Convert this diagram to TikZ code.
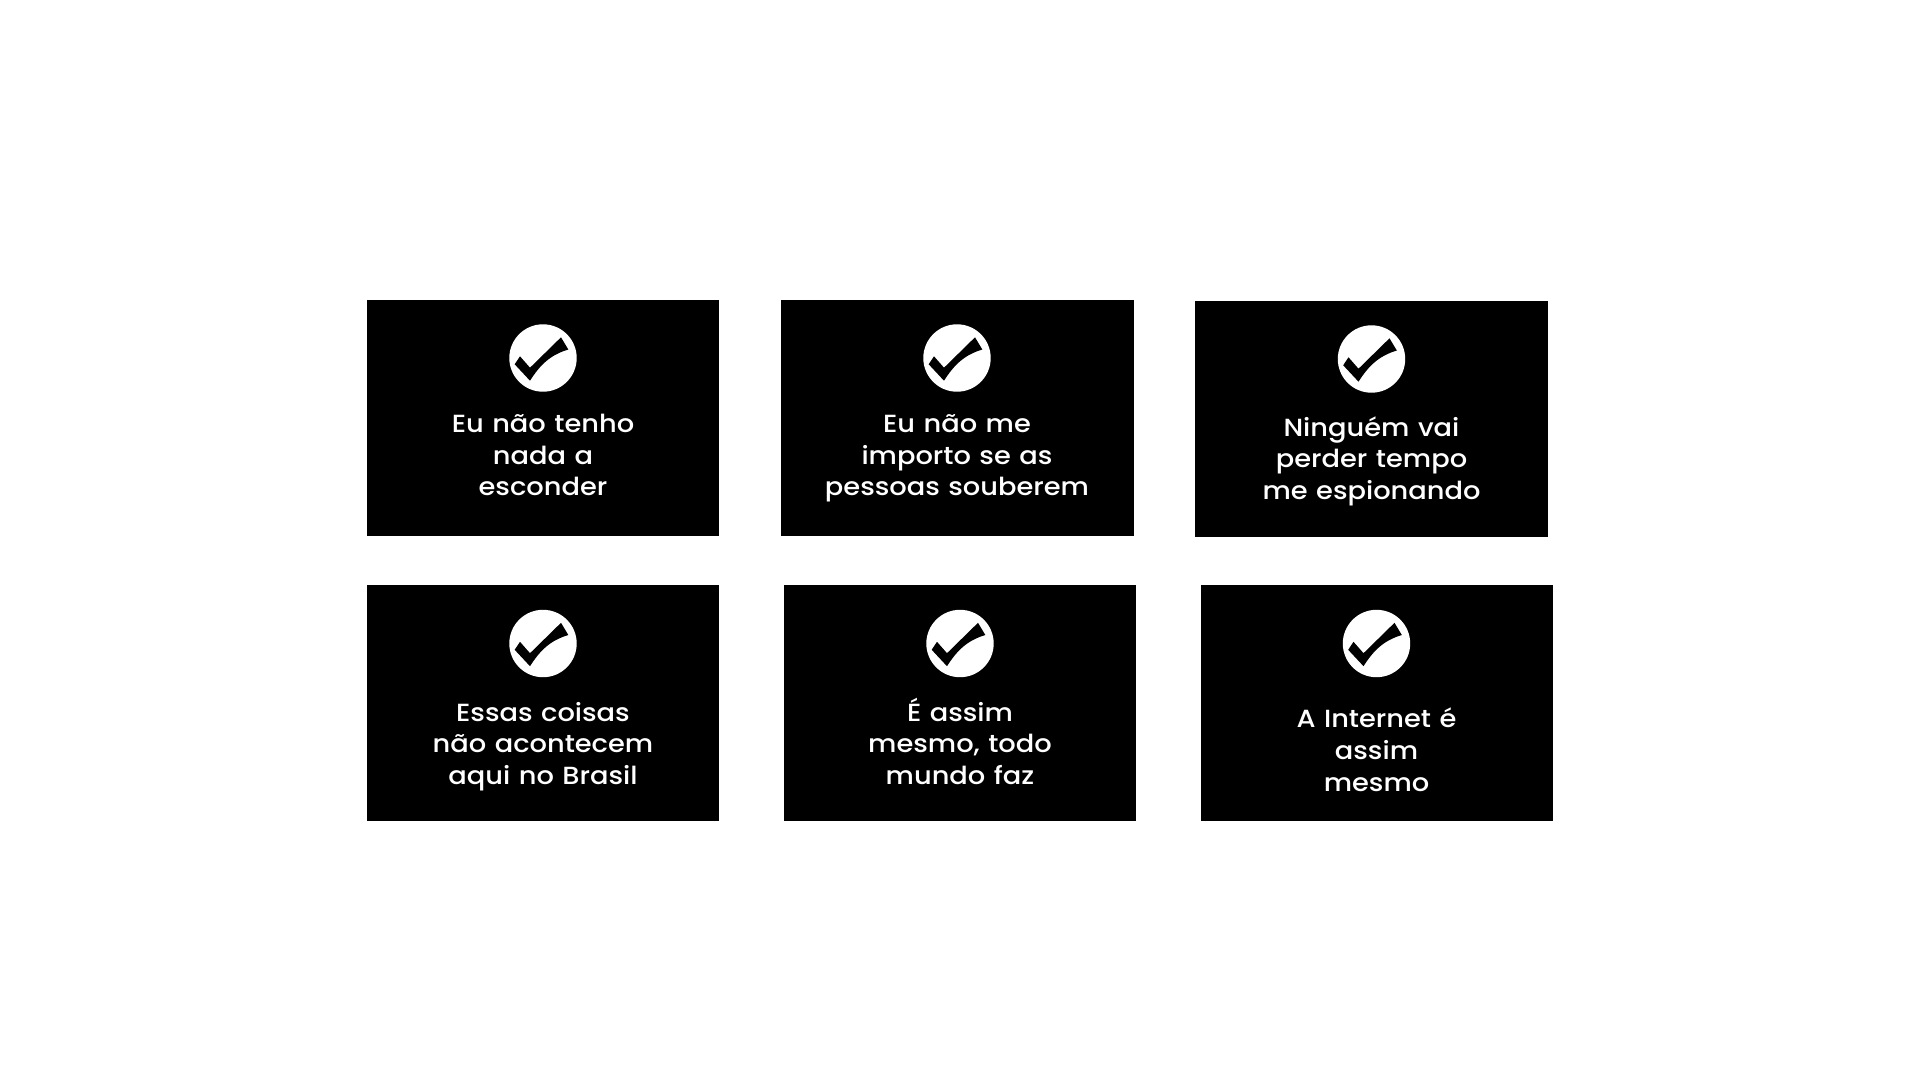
\documentclass[tikz,border=0pt]{standalone}
\usepackage{fontspec}
\setmainfont{Poppins Medium}[FakeStretch=1.1,WordSpace=1.2]
\tikzset{
  x=1pt,y=-1pt,
  cardbox/.style={fill=black,draw=none,inner sep=0pt,outer sep=0pt},
  badge/.style={circle,fill=white,draw=none,minimum size=67.4pt,inner sep=0pt},
  cardtext/.style={text=white,align=center,inner sep=0pt,anchor=base,font=\fontsize{24.8}{31.7}\selectfont},
}
\newcommand{\cardx}[9]{%
  \node[cardbox,minimum width=#4pt-#2pt,minimum height=#5pt-#3pt,anchor=north west] (box#1) at (#2,#3) {};
  \node[badge] (badge#1) at (#6,#7) {};
  \fill[black] ([shift={(-28.3,6.3)}]badge#1.center) -- ([shift={(-23,-1.7)}]badge#1.center) -- ([shift={(-13,9.7)}]badge#1.center) -- ([shift={(18,-20.7)}]badge#1.center) -- ([shift={(25.3,-8.5)}]badge#1.center) .. controls ([shift={(7,-3)}]badge#1.center) and ([shift={(-3,7)}]badge#1.center) .. ([shift={(-13,22.7)}]badge#1.center) -- cycle;
  \node[cardtext] (label#1) at (#6,#8) {#9};
}
\begin{document}
\begin{tikzpicture}
\useasboundingbox (0,0) rectangle (1920,1080);
\fill[white] (0,0) rectangle (1920,1080);
\cardx{a}{367}{300}{719.2}{535.7}{543}{358}{495.7}{Eu não tenho\\nada a\\esconder}
\cardx{b}{781}{300}{1133.6}{535.7}{957}{358}{495.7}{Eu não me\\importo se as\\pessoas souberem}
\cardx{c}{1195}{301}{1547.6}{536.7}{1371.5}{359}{499.4}{Ninguém vai\\perder tempo\\me espionando}
\cardx{d}{367}{585}{719.2}{820.7}{543}{643.5}{784.5}{Essas coisas\\não acontecem\\aqui no Brasil}
\cardx{e}{784}{585}{1136.4}{820.7}{960}{643.5}{784.5}{É assim\\mesmo, todo\\mundo faz}
\cardx{f}{1200.5}{585}{1552.9}{820.7}{1376.5}{643.5}{791}{A Internet é\\assim\\mesmo}
\end{tikzpicture}
\end{document}
